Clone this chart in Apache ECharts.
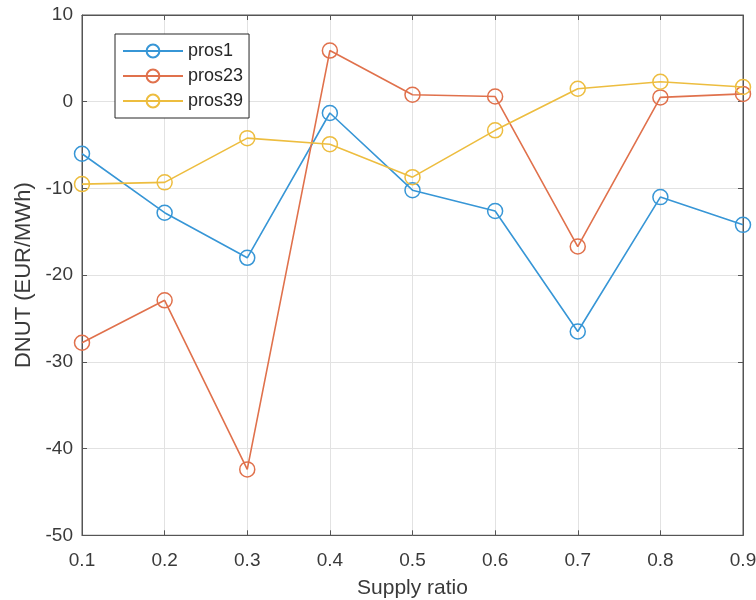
<!DOCTYPE html>
<html>
<head>
<meta charset="utf-8">
<script src="https://cdn.jsdelivr.net/npm/echarts@6/dist/echarts.min.js"></script>
<style>html,body{margin:0;padding:0;background:#fff;}#c{width:756px;height:600px;}</style>
</head>
<body>
<div id="c"></div>
<script>
const xValues = [0.1, 0.2, 0.3, 0.4, 0.5, 0.6, 0.7, 0.8, 0.9];
const pros1 = [-6.0, -12.8, -18.0, -1.3, -10.2, -12.6, -26.5, -11.0, -14.2];
const pros23 = [-27.8, -22.9, -42.4, 5.9, 0.8, 0.6, -16.7, 0.5, 0.9];
const pros39 = [-9.5, -9.3, -4.2, -4.9, -8.7, -3.3, 1.5, 2.3, 1.7];
const seriesNames = ['pros1', 'pros23', 'pros39'];
const colors = ['#3796d6', '#e0714c', '#edbd3f'];

const font = '"Liberation Sans", Arial, sans-serif';
const axisColor = '#555555';
const textColor = '#3a3a3a';

function pairs(ys) { return xValues.map((x, i) => [x, ys[i]]); }

const chart = echarts.init(document.getElementById('c'), null, {renderer: 'canvas'});
const seriesData = [pros1, pros23, pros39];

chart.setOption({
  backgroundColor: '#ffffff',
  animation: false,
  textStyle: {fontFamily: font},
  grid: {left: 82, top: 15, right: 13, bottom: 64.7, show: true, borderColor: axisColor, borderWidth: 1,
         containLabel: false, outerBoundsMode: 'none'},
  legend: {
    orient: 'vertical',
    left: 115, top: 34,
    backgroundColor: '#ffffff',
    borderColor: '#262626', borderWidth: 1,
    padding: [8, 6, 8, 7],
    itemWidth: 60, itemHeight: 16, itemGap: 7,
    textStyle: {fontSize: 18, lineHeight: 18, color: '#262626', fontFamily: font},
    data: seriesNames
  },
  xAxis: [{
    type: 'value', min: 0.1, max: 0.9, interval: 0.1,
    name: 'Supply ratio', nameLocation: 'middle', nameGap: 42,
    nameTextStyle: {fontSize: 21, color: textColor, fontFamily: font},
    axisLine: {show: true, onZero: false, lineStyle: {color: axisColor}},
    axisTick: {show: true, inside: true, length: 5, lineStyle: {color: axisColor}},
    axisLabel: {fontSize: 19, color: textColor, margin: 16, formatter: v => v.toFixed(1)},
    splitLine: {show: true, lineStyle: {color: '#e2e2e2', width: 1}}
  }, {
    type: 'value', min: 0.1, max: 0.9, interval: 0.1, position: 'top',
    axisLine: {show: true, onZero: false, lineStyle: {color: axisColor}},
    axisTick: {show: true, inside: true, length: 5, lineStyle: {color: axisColor}},
    axisLabel: {show: false}, splitLine: {show: false}
  }],
  yAxis: [{
    type: 'value', min: -50, max: 10, interval: 10,
    name: 'DNUT (EUR/MWh)', nameLocation: 'middle', nameGap: 46,
    nameTextStyle: {fontSize: 22, color: textColor, fontFamily: font},
    axisLine: {show: true, onZero: false, lineStyle: {color: axisColor}},
    axisTick: {show: true, inside: true, length: 5, lineStyle: {color: axisColor}},
    axisLabel: {fontSize: 19, color: textColor, margin: 9},
    splitLine: {show: true, lineStyle: {color: '#e2e2e2', width: 1}}
  }, {
    type: 'value', min: -50, max: 10, interval: 10, position: 'right',
    axisLine: {show: true, onZero: false, lineStyle: {color: axisColor}},
    axisTick: {show: true, inside: true, length: 5, lineStyle: {color: axisColor}},
    axisLabel: {show: false}, splitLine: {show: false}
  }],
  series: seriesNames.map((name, i) => ({
    name: name,
    type: 'line',
    data: pairs(seriesData[i]),
    color: colors[i],
    symbol: 'circle',
    symbolSize: 15,
    showAllSymbol: true,
    lineStyle: {width: 1.6, color: colors[i]},
    itemStyle: {color: 'rgba(255,255,255,0)', borderColor: colors[i], borderWidth: 1.5},
    z: 3 + i
  }))
});
</script>
</body>
</html>
